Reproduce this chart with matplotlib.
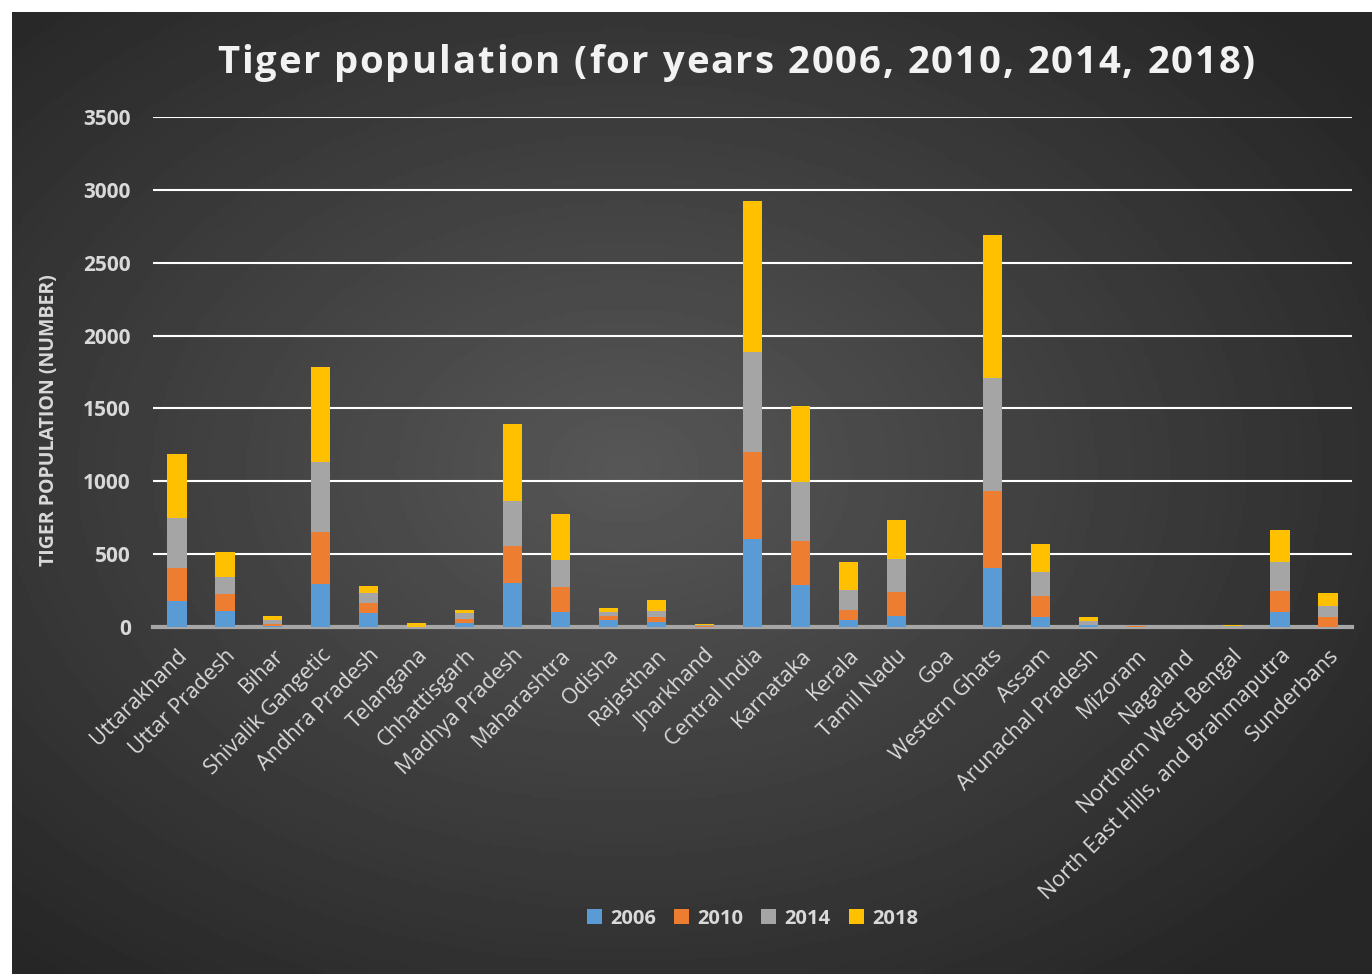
import numpy as np
import matplotlib
matplotlib.use("Agg")
import matplotlib.pyplot as plt

regions = ["Uttarakhand", "Uttar Pradesh", "Bihar", "Shivalik Gangetic", "Andhra Pradesh",
           "Telangana", "Chhattisgarh", "Madhya Pradesh", "Maharashtra", "Odisha",
           "Rajasthan", "Jharkhand", "Central India", "Karnataka", "Kerala", "Tamil Nadu",
           "Goa", "Western Ghats", "Assam", "Arunachal Pradesh", "Mizoram", "Nagaland",
           "Northern West Bengal", "North East Hills, and Brahmaputra", "Sunderbans"]

y2006 = [178, 109, 10, 297, 95, 0, 26, 300, 103, 45, 32, 0, 601, 290, 46, 76, 0, 402, 70, 14, 0, 0, 0, 100, 0]
y2010 = [227, 118, 8, 353, 72, 0, 26, 257, 169, 32, 36, 10, 601, 300, 71, 163, 0, 534, 143, 0, 8, 0, 0, 148, 70]
y2014 = [340, 117, 28, 485, 68, 0, 46, 308, 190, 28, 45, 3, 688, 406, 136, 229, 5, 776, 167, 28, 3, 0, 10, 201, 76]
y2018 = [442, 173, 31, 646, 48, 26, 19, 526, 312, 28, 69, 5, 1033, 524, 190, 264, 3, 981, 190, 29, 0, 0, 2, 219, 88]

years = ["2006", "2010", "2014", "2018"]
colors = ["#5B9BD5", "#ED7D31", "#A5A5A5", "#FFC000"]
title = "Tiger population (for years 2006, 2010, 2014, 2018)"

plt.rcParams['font.family'] = ['Open Sans', 'DejaVu Sans']
txt = "#D9D9D9"

fig = plt.figure(figsize=(13.72, 9.74), dpi=100)
fig.patch.set_facecolor("white")

# dark radial gradient panel
bg = fig.add_axes([12 / 1372, 0, 1 - 12 / 1372, 1 - 12 / 974])
yy, xx = np.mgrid[-1:1:300j, -1:1:400j]
r = np.sqrt((xx + 0.1)**2 + (yy + 0.05)**2)
grad = 0.34 - 0.19 * np.clip(r / 1.35, 0, 1)
bg.imshow(grad, cmap="gray", vmin=0, vmax=1, aspect="auto", extent=[0, 1, 0, 1])
bg.axis("off")

ax = fig.add_axes([153 / 1372, 1 - 627 / 974, (1352 - 153) / 1372, (627 - 117) / 974])
ax.patch.set_alpha(0)

x = np.arange(len(regions))
data = [y2006, y2010, y2014, y2018]
bottom = np.zeros(len(regions))
for vals, c, lab in zip(data, colors, years):
    ax.bar(x, vals, 0.4, bottom=bottom, color=c, label=lab, zorder=3)
    bottom += np.array(vals)

ax.set_xlim(-0.5, len(regions) - 0.5)
ax.set_ylim(0, 3500)
ax.set_yticks(np.arange(0, 3501, 500))
ax.yaxis.grid(True, color="white", linewidth=1.5, zorder=0)
ax.set_axisbelow(True)
for s in ["top", "right", "left"]:
    ax.spines[s].set_visible(False)
ax.spines["bottom"].set_color("#A6A6A6")
ax.spines["bottom"].set_linewidth(3)
ax.tick_params(axis="y", length=0, pad=16, colors=txt, labelsize=15)
for t in ax.get_yticklabels():
    t.set_fontweight("bold")
ax.tick_params(axis="x", length=0, pad=13, colors=txt)
ax.set_xticks(x)
ax.set_xticklabels(regions, rotation=45, ha="right", rotation_mode="anchor", fontsize=15.5, color=txt)

ax.set_ylabel("TIGER POPULATION (NUMBER)", color=txt, fontsize=14, fontweight="bold")
ax.yaxis.set_label_coords(-94 / 1199, 0.405)

# letter-spaced title, drawn char by char
fig.canvas.draw()
rend = fig.canvas.get_renderer()
fs = 27.5
spacing = 1.9
def w(s):
    t = fig.text(0, 0, s, fontsize=fs, fontweight="bold")
    bb = t.get_window_extent(rend)
    t.remove()
    return bb.width
total = w(title) + spacing * (len(title) - 1)
x0 = 736 - total / 2
ytit = 1 - 63 / 974
for i, ch in enumerate(title):
    if ch == " ":
        continue
    left = w(title[:i + 1]) - w(ch) + spacing * i
    fig.text((x0 + left) / 1372, ytit, ch, fontsize=fs, fontweight="bold",
             color="#F2F2F2", ha="left", va="center")

leg = ax.legend(loc="center", bbox_to_anchor=(0.5, -0.572), ncol=4, frameon=False,
                fontsize=14.5, handlelength=0.75, handleheight=0.75, columnspacing=0.9, handletextpad=0.4)
for t in leg.get_texts():
    t.set_color(txt)
    t.set_fontweight("bold")

fig.savefig("out.png", dpi=100)
